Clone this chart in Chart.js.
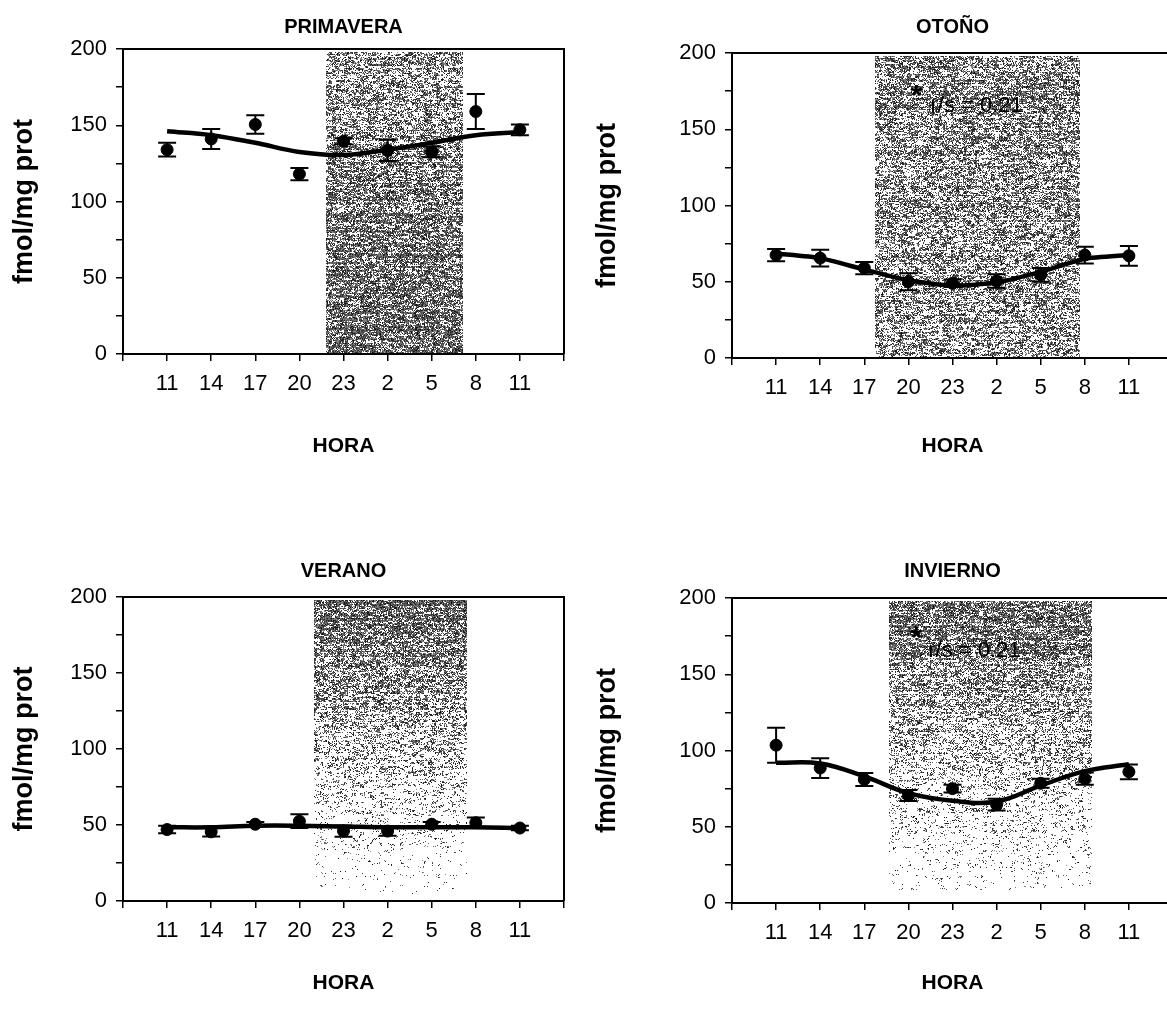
<!DOCTYPE html>
<html>
<head>
<meta charset="utf-8">
<script src="https://cdn.jsdelivr.net/npm/chart.js@4.4.0/dist/chart.umd.min.js"></script>
<style>
html, body { margin: 0; padding: 0; background: #fff; overflow: hidden; width: 1167px; height: 1009px; }
.panel { position: absolute; }
</style>
</head>
<body>
<div class="panel" style="left:0px;top:0px"><canvas id="primavera" width="583" height="470"></canvas></div>
<div class="panel" style="left:583px;top:0px"><canvas id="otono" width="600" height="470"></canvas></div>
<div class="panel" style="left:0px;top:540px"><canvas id="verano" width="583" height="469"></canvas></div>
<div class="panel" style="left:583px;top:540px"><canvas id="invierno" width="600" height="469"></canvas></div>
<script>
// sampling hours (x axis)
const hourLabels = ['11', '14', '17', '20', '23', '2', '5', '8', '11'];

// means, SEM and fitted curve, fmol/mg prot
const primaveraMean = [134, 141, 150.5, 118, 139.5, 133.5, 132.5, 159, 147];
const primaveraErr  = [4.5, 6.5, 6, 4, 2, 7, 3.5, 11.5, 3.5];
const primaveraFit  = [146, 143.5, 138.5, 132.5, 130.5, 134, 138.5, 143.5, 145.5];

const otonoMean = [67.5, 65.5, 59, 50, 49, 50.5, 54.5, 67.5, 67];
const otonoErr  = [4, 5.5, 4, 5.5, 2.5, 4.5, 4.5, 5.5, 6.5];
const otonoFit  = [68.5, 65.5, 58, 51, 47.5, 49.5, 56.5, 65, 67.5];

const veranoMean = [47, 45.5, 50.5, 52.5, 46, 46, 50.5, 51.5, 48];
const veranoErr  = [2.5, 3, 1.5, 4.5, 3.7, 3, 1.5, 3.5, 1.5];
const veranoFit  = [48.5, 48.5, 49.5, 49.5, 49, 48.5, 48.5, 48.5, 48];

const inviernoMean = [103.5, 88.5, 81, 70.5, 75, 64.5, 78.5, 81.5, 86];
const inviernoErr  = [11.5, 6.5, 4.2, 3.6, 2.5, 3.8, 3, 4, 4.9];
const inviernoFit  = [92, 91.5, 83, 72, 67, 66.5, 77, 86.5, 91];

// dark period, in tick units (1 = first "11")
const primaveraNight = [4.6, 7.72];
const otonoNight     = [3.25, 7.9];
const veranoNight    = [4.33, 7.8];
const inviernoNight  = [3.57, 8.17];

const FONT = "'Liberation Sans', Arial, sans-serif";

function noise(i, j, s) {
  let n = Math.imul(i, 374761393) + Math.imul(j, 668265263) + Math.imul(s, 1442695041);
  n = Math.imul(n ^ (n >>> 13), 1274126177);
  n = n ^ (n >>> 16);
  return (n >>> 0) / 4294967296;
}

function makeChart(id, cfg) {
  const fitPts = cfg.fit.map((v, i) => ({ x: i + 1, y: v }));
  const meanPts = cfg.mean.map((v, i) => ({ x: i + 1, y: v }));

  // speckled grey band for the dark period (scanned halftone look)
  const nightPlugin = {
    id: 'night',
    beforeDatasetsDraw(chart) {
      const { ctx, scales: { x, y } } = chart;
      const x0 = Math.round(x.getPixelForValue(cfg.night[0]));
      const x1 = Math.round(x.getPixelForValue(cfg.night[1]));
      const y0 = Math.round(y.getPixelForValue(cfg.shade.top));
      const y1 = Math.round(y.getPixelForValue(cfg.shade.bottom)) - 1;
      const w = x1 - x0, h = y1 - y0;
      const off = document.createElement('canvas');
      off.width = w; off.height = h;
      const octx = off.getContext('2d');
      const img = octx.createImageData(w, h);
      for (let j = 0; j < h; j++) {
        const t = j / (h - 1);
        const row = 0.8 + 0.4 * noise(0, j, cfg.seed + 3);
        const d = (cfg.shade.d0 + (cfg.shade.d1 - cfg.shade.d0) * t) * row;
        for (let i = 0; i < w; i++) {
          const blob = noise((i + x0) >> 2, (j + y0) >> 1, cfg.seed + 5);
          const fine = noise(i + x0, j + y0, cfg.seed);
          const r = 0.55 * fine + 0.45 * blob;
          if (r < d * 0.95 + 0.02) {
            const k = (j * w + i) * 4;
            const g = 15 + Math.floor(noise(i, j, cfg.seed + 7) * 130);
            img.data[k] = img.data[k + 1] = img.data[k + 2] = g;
            img.data[k + 3] = 255;
          }
        }
      }
      octx.putImageData(img, 0, 0);
      ctx.drawImage(off, x0, y0);
    }
  };

  const errPlugin = {
    id: 'errbars',
    afterDatasetsDraw(chart) {
      const { ctx, scales: { x, y } } = chart;
      ctx.save();
      ctx.strokeStyle = '#000';
      ctx.lineWidth = 2;
      cfg.mean.forEach((m, i) => {
        const px = x.getPixelForValue(i + 1);
        const top = y.getPixelForValue(m + cfg.err[i]);
        const bot = y.getPixelForValue(m - cfg.err[i]);
        ctx.beginPath();
        ctx.moveTo(px, top); ctx.lineTo(px, bot);
        ctx.moveTo(px - 9, top); ctx.lineTo(px + 9, top);
        ctx.moveTo(px - 9, bot); ctx.lineTo(px + 9, bot);
        ctx.stroke();
      });
      ctx.restore();
    }
  };

  const boxPlugin = {
    id: 'box',
    afterDraw(chart) {
      const { ctx, chartArea: a } = chart;
      ctx.save();
      ctx.strokeStyle = '#000';
      ctx.lineWidth = 2;
      ctx.beginPath();
      ctx.moveTo(a.left, a.top); ctx.lineTo(a.right, a.top); ctx.lineTo(a.right, a.bottom);
      ctx.stroke();
      ctx.restore();
    }
  };

  const notePlugin = {
    id: 'note',
    afterDatasetsDraw(chart) {
      if (!cfg.note) return;
      const { ctx, scales: { x, y } } = chart;
      ctx.save();
      ctx.fillStyle = '#000';
      ctx.textAlign = 'left';
      ctx.textBaseline = 'middle';
      ctx.font = 'bold 30px ' + FONT;
      ctx.fillText('*', x.getPixelForValue(cfg.note.starX), y.getPixelForValue(cfg.note.starY));
      ctx.font = '22px ' + FONT;
      ctx.fillText(cfg.note.text, x.getPixelForValue(cfg.note.textX), y.getPixelForValue(cfg.note.textY));
      ctx.restore();
    }
  };

  return new Chart(document.getElementById(id), {
    type: 'scatter',
    data: {
      datasets: [{
        data: fitPts,
        showLine: true,
        borderColor: '#000',
        borderWidth: 4.5,
        pointRadius: 0,
        tension: cfg.tension,
        fill: false
      }, {
        data: meanPts,
        pointRadius: 6,
        pointHoverRadius: 6,
        backgroundColor: '#000',
        borderColor: '#000'
      }]
    },
    options: {
      responsive: false,
      animation: false,
      events: [],
      layout: { padding: { left: 0, right: cfg.padRight, top: 0, bottom: 0 } },
      plugins: {
        legend: { display: false },
        tooltip: { enabled: false },
        title: {
          display: true,
          text: cfg.title,
          color: '#000',
          fullSize: false,
          font: { family: FONT, size: 20, weight: 'bold' },
          padding: { top: cfg.titleTop, bottom: cfg.titleBottom }
        }
      },
      scales: {
        x: {
          type: 'linear',
          min: 0,
          max: 10,
          grid: { drawOnChartArea: false, drawTicks: true, tickLength: 7, color: '#000', lineWidth: 1.5 },
          border: { color: '#000', width: 2 },
          ticks: {
            stepSize: 1,
            autoSkip: false,
            maxRotation: 0,
            padding: 10,
            color: '#000',
            font: { family: FONT, size: 22 },
            callback: v => (v >= 1 && v <= 9) ? hourLabels[v - 1] : ''
          },
          title: {
            display: true,
            text: 'HORA',
            color: '#000',
            font: { family: FONT, size: 21, weight: 'bold' },
            padding: { top: 0, bottom: cfg.horaPad }
          },
          afterFit: s => { s.height = cfg.xH; }
        },
        y: {
          min: 0,
          max: 200,
          grid: { drawOnChartArea: false, drawTicks: true, tickLength: 7, color: '#000', lineWidth: 1.5 },
          border: { color: '#000', width: 2 },
          ticks: {
            stepSize: 25,
            padding: 9,
            color: '#000',
            font: { family: FONT, size: 22 },
            callback: v => (v % 50 === 0) ? v : ''
          },
          title: {
            display: true,
            text: 'fmol/mg prot',
            color: '#000',
            font: { family: FONT, size: 27, weight: 'bold' },
            padding: { top: 8, bottom: 0 }
          },
          afterFit: s => { s.width = cfg.yW; }
        }
      }
    },
    plugins: [nightPlugin, errPlugin, boxPlugin, notePlugin]
  });
}

makeChart('primavera', {
  title: 'PRIMAVERA', mean: primaveraMean, err: primaveraErr, fit: primaveraFit,
  night: primaveraNight, shade: { top: 198, bottom: 0, d0: 0.5, d1: 0.66 }, seed: 11,
  tension: 0.4, padRight: 19, yW: 123, xH: 116, titleTop: 15, titleBottom: 10, horaPad: 11
});
makeChart('otono', {
  title: 'OTOÑO', mean: otonoMean, err: otonoErr, fit: otonoFit,
  night: otonoNight, shade: { top: 198, bottom: 0, d0: 0.56, d1: 0.48 }, seed: 23,
  tension: 0.2, padRight: 10, yW: 149, xH: 112, titleTop: 15, titleBottom: 14, horaPad: 11,
  note: { text: 'r/s = 0.21', starX: 4.05, starY: 171, textX: 4.5, textY: 165 }
});
makeChart('verano', {
  title: 'VERANO', mean: veranoMean, err: veranoErr, fit: veranoFit,
  night: veranoNight, shade: { top: 198, bottom: 4, d0: 0.72, d1: 0.06 }, seed: 37,
  tension: 0.4, padRight: 19, yW: 123, xH: 108, titleTop: 19, titleBottom: 14, horaPad: 13
});
makeChart('invierno', {
  title: 'INVIERNO', mean: inviernoMean, err: inviernoErr, fit: inviernoFit,
  night: inviernoNight, shade: { top: 198, bottom: 8, d0: 0.68, d1: 0.1 }, seed: 53,
  tension: 0.4, padRight: 10, yW: 149, xH: 106, titleTop: 19, titleBottom: 15, horaPad: 13,
  note: { text: 'r/s = 0.21', starX: 4.05, starY: 173, textX: 4.45, textY: 165 }
});
</script>
</body>
</html>
